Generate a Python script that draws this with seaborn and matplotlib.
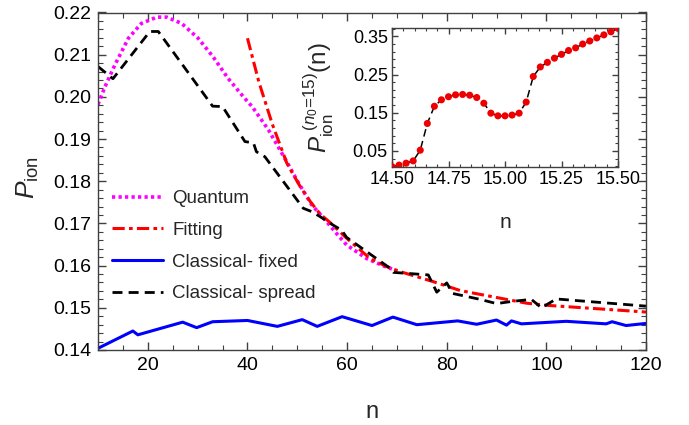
import numpy as np
import pandas as pd
import matplotlib
matplotlib.use("Agg")
import matplotlib.pyplot as plt
import seaborn as sns
from matplotlib.ticker import MultipleLocator, FormatStrFormatter

# ---------------- data ----------------
quantum_n = [10, 11.4, 13.4, 16.1, 18.7, 21.8, 23.8, 26.8, 30.1, 33.1, 36.1, 39.2,
             41.0, 44.2, 47.9, 49.9, 52.9, 55.2, 57.6, 59.9, 63.9, 67.6, 69.0]
quantum_p = [0.1982, 0.2024, 0.2076, 0.2139, 0.2174, 0.2189, 0.2189, 0.2174, 0.2139,
             0.2095, 0.2044, 0.2000, 0.1976, 0.1922, 0.1846, 0.1803, 0.1744, 0.1714,
             0.1680, 0.1649, 0.1617, 0.1598, 0.1592]

fit_n = [40, 42.3, 45, 47.9, 50.6, 52.6, 54.6, 56.6, 59.9, 64.6, 67.9, 70.6, 77.3,
         82.7, 85.3, 96, 100, 120]
fit_p = [0.2139, 0.2035, 0.1935, 0.1843, 0.1787, 0.1752, 0.1722, 0.1702, 0.1665,
         0.1617, 0.1598, 0.1586, 0.1562, 0.1541, 0.1535, 0.1511, 0.1506, 0.1490]

fixed_n = [10, 17, 18, 27, 29.8, 33, 40, 46, 51, 54, 59, 65, 69.2, 74, 82.2, 86, 90,
           92, 93, 95, 104, 112, 113.2, 116, 120]
fixed_p = [0.1404, 0.1445, 0.1436, 0.1466, 0.1453, 0.1467, 0.1470, 0.1456, 0.1472,
           0.1456, 0.1479, 0.1458, 0.1478, 0.1460, 0.1469, 0.1461, 0.1471, 0.1459,
           0.1469, 0.1462, 0.1468, 0.1462, 0.1467, 0.1458, 0.1463]

spread_n = [10, 13, 20.4, 22.1, 33.0, 35.0, 39.5, 41.2, 41.8, 43.5, 51.2, 52.9, 54.6,
            57.2, 58.9, 59.9, 68.6, 69.3, 76.3, 78, 80, 81.2, 86.7, 90, 93, 97, 99,
            102, 120]
spread_p = [0.2072, 0.2043, 0.2155, 0.2155, 0.1978, 0.1977, 0.1894, 0.1891, 0.1870,
            0.1858, 0.1736, 0.1728, 0.1716, 0.1696, 0.1684, 0.1667, 0.1594, 0.1584,
            0.1578, 0.1537, 0.1559, 0.1534, 0.1520, 0.1510, 0.1515, 0.1520, 0.1500,
            0.1521, 0.1504]

inset_n = list(np.round(np.linspace(14.5, 15.5, 33), 5))
inset_p = [0.009, 0.013, 0.018, 0.024, 0.052, 0.122, 0.167, 0.184, 0.192, 0.197,
           0.198, 0.196, 0.190, 0.175, 0.149, 0.142, 0.142, 0.144, 0.149, 0.178,
           0.245, 0.270, 0.282, 0.293, 0.303, 0.313, 0.320, 0.330, 0.338, 0.346,
           0.354, 0.362, 0.371]

labels = ["Quantum", "Fitting", "Classical- fixed", "Classical- spread"]

# ---------------- style ----------------
sns.set_style("ticks")
plt.rcParams['font.family'] = ['Liberation Sans', 'DejaVu Sans']
plt.rcParams['mathtext.fontset'] = 'custom'
plt.rcParams['mathtext.rm'] = 'Liberation Sans'
plt.rcParams['mathtext.it'] = 'Liberation Sans:italic'
plt.rcParams['mathtext.bf'] = 'Liberation Sans:bold'

fig = plt.figure(figsize=(6.89, 4.25), dpi=100)
ax = fig.add_axes([98/689, 1-350/425, 548/689, 337.5/425])

sns.lineplot(x=quantum_n, y=quantum_p, ax=ax, color='#FF00FF', lw=2.6,
             linestyle=(0, (0.9, 0.9)), label=labels[0], estimator=None, sort=False)
sns.lineplot(x=fit_n, y=fit_p, ax=ax, color='#FF0000', lw=2.2,
             linestyle=(0, (4, 1.4, 1.2, 1.4)), label=labels[1], estimator=None, sort=False)
sns.lineplot(x=fixed_n, y=fixed_p, ax=ax, color='#0000FF', lw=2.2,
             linestyle='-', label=labels[2], estimator=None, sort=False)
sns.lineplot(x=spread_n, y=spread_p, ax=ax, color='black', lw=2.0,
             linestyle=(0, (3.6, 2.2)), label=labels[3], estimator=None, sort=False)

ax.set_xlim(10, 120)
ax.set_ylim(0.14, 0.22)
ax.xaxis.set_major_locator(MultipleLocator(20))
ax.xaxis.set_minor_locator(MultipleLocator(5))
ax.yaxis.set_major_locator(MultipleLocator(0.01))
ax.yaxis.set_minor_locator(MultipleLocator(0.002))
ax.yaxis.set_major_formatter(FormatStrFormatter('%.2f'))

for s in ax.spines.values():
    s.set_color('0.25')
    s.set_linewidth(1.0)
ax.tick_params(which='both', direction='in', top=True, right=True, colors='0.25',
               labelcolor='black')
ax.tick_params(which='major', length=6, width=1, labelsize=14, pad=5)
ax.tick_params(which='minor', length=3.5, width=0.8)

ax.set_xlabel('n', fontsize=17)
ax.set_ylabel(r'$P_{\mathrm{ion}}$', fontsize=19)
ax.xaxis.set_label_coords(0.5, -0.15)
ax.yaxis.set_label_coords(-0.104, 0.51)

leg = ax.legend(loc='upper left', bbox_to_anchor=(112/689, 1-190/425),
                bbox_transform=fig.transFigure, frameon=False, fontsize=13.5,
                handlelength=2.7, handletextpad=0.5, labelspacing=0.78,
                borderaxespad=0, borderpad=0)

# ---------------- inset ----------------
ins = fig.add_axes([392/689, 1-167/425, 226/689, 139/425])
sns.lineplot(x=inset_n, y=inset_p, ax=ins, color='black', lw=1.1,
             linestyle=(0, (5, 3)), estimator=None, sort=False)
sns.scatterplot(x=inset_n, y=inset_p, ax=ins, color='#EE0000', s=26,
                edgecolor='none', zorder=3)
ins.set_xlim(14.5, 15.5)
ins.set_ylim(0.008, 0.372)
ins.xaxis.set_major_locator(MultipleLocator(0.25))
ins.xaxis.set_minor_locator(MultipleLocator(0.05))
ins.yaxis.set_major_locator(MultipleLocator(0.1, offset=0.05))
ins.yaxis.set_minor_locator(MultipleLocator(0.02, offset=0.01))
ins.xaxis.set_major_formatter(FormatStrFormatter('%.2f'))
ins.yaxis.set_major_formatter(FormatStrFormatter('%.2f'))
for s in ins.spines.values():
    s.set_color('0.25')
    s.set_linewidth(1.0)
ins.tick_params(which='both', direction='in', top=True, right=True, colors='0.25',
                labelcolor='black')
ins.tick_params(which='major', length=4, width=1, labelsize=13, pad=3)
ins.tick_params(which='minor', length=2.2, width=0.8)
ins.set_xlabel('n', fontsize=15)
ins.set_ylabel(r'$P_{\mathrm{ion}}^{\ (n_0\!=\!15)}\mathrm{(n)}$', fontsize=17.5)
ins.xaxis.set_label_coords(0.5, -0.33)
ins.yaxis.set_label_coords(-0.25, 0.5)

fig.savefig('out.png', dpi=100)
